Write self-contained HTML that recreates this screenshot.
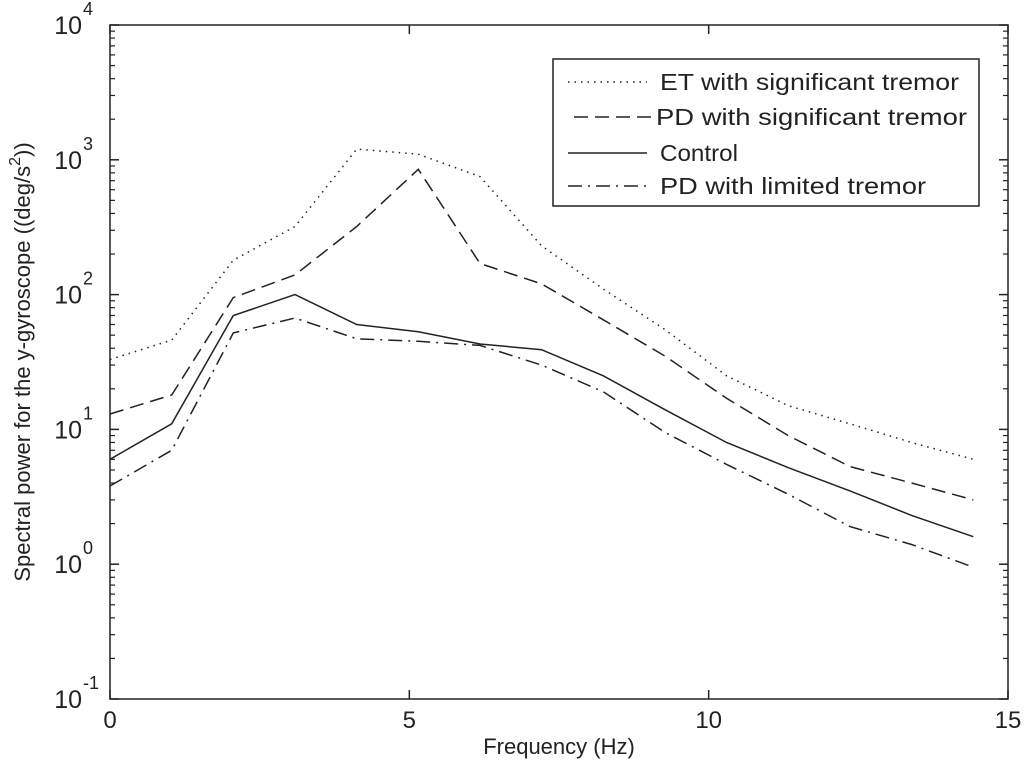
<!DOCTYPE html>
<html><head><meta charset="utf-8"><style>
body{margin:0;background:#fff;}
svg text{font-family:"Liberation Sans",Arial,sans-serif;fill:#222;}
</style></head><body>
<svg id="chart" width="1024" height="769" xmlns="http://www.w3.org/2000/svg">
<rect x="0" y="0" width="1024" height="769" fill="#fff"/>
<g id="ticks"></g>
<g id="series"></g>
<rect x="110" y="25" width="898" height="674" fill="none" stroke="#222" stroke-width="1.5"/>
<text x="559" y="754" font-size="22" text-anchor="middle">Frequency (Hz)</text>
<text transform="translate(30,362) rotate(-90)" font-size="22" text-anchor="middle">Spectral power for the y-gyroscope ((deg/s<tspan dy="-10" font-size="16">2</tspan><tspan dy="10">))</tspan></text>
<g>
<rect x="553" y="59" width="426" height="147" fill="#fff" stroke="#222" stroke-width="1.5"/>
<line x1="568" y1="82" x2="647" y2="82" stroke="#222" stroke-width="1.5" stroke-dasharray="1.5,5"/>
<text x="660" y="90" font-size="23" textLength="299" lengthAdjust="spacingAndGlyphs">ET with significant tremor</text>
<line x1="574" y1="117" x2="651" y2="117" stroke="#222" stroke-width="1.5" stroke-dasharray="14,7"/>
<text x="656" y="125" font-size="23" textLength="311" lengthAdjust="spacingAndGlyphs">PD with significant tremor</text>
<line x1="568" y1="153" x2="647" y2="153" stroke="#222" stroke-width="1.5"/>
<text x="660" y="161" font-size="23" textLength="78" lengthAdjust="spacingAndGlyphs">Control</text>
<line x1="568" y1="186" x2="647" y2="186" stroke="#222" stroke-width="1.5" stroke-dasharray="14,6,2,6"/>
<text x="660" y="194" font-size="23" textLength="266" lengthAdjust="spacingAndGlyphs">PD with limited tremor</text>
</g>
</svg>
<script>
const freqs = [0, 1.03, 2.06, 3.09, 4.12, 5.15, 6.18, 7.21, 8.24, 9.27, 10.3, 11.33, 12.36, 13.39, 14.42];
const etSig = [33, 46, 180, 320, 1200, 1100, 750, 230, 110, 55, 25, 15, 11, 8, 6];
const pdSig = [13, 18, 95, 140, 320, 850, 170, 120, 65, 35, 17, 9, 5.3, 4, 3];
const control = [6, 11, 70, 100, 60, 53, 43, 39, 25, 14, 8, 5.2, 3.5, 2.3, 1.6];
const pdLim = [3.8, 7, 52, 67, 47, 45, 42, 30, 19, 9.5, 5.5, 3.3, 1.9, 1.4, 0.95];
const xTicks = [0, 5, 10, 15];
const yExps = [-1, 0, 1, 2, 3, 4];

const NS = "http://www.w3.org/2000/svg";
const L = 110, R = 1008, T = 25, B = 699;
function xs(v){ return L + v / 15 * (R - L); }
function ys(v){ return B - (Math.log10(v) + 1) / 5 * (B - T); }
function mk(tag, attrs, parent){ const e = document.createElementNS(NS, tag); for (const k in attrs) e.setAttribute(k, attrs[k]); parent.appendChild(e); return e; }

const tg = document.getElementById('ticks');
xTicks.forEach(t => {
  const x = xs(t);
  const l1 = mk('line', {x1:x, y1:B, x2:x, y2:B-9, stroke:'#222', 'stroke-width':1.5}, tg);
  
  
  const l2 = mk('line', {x1:x, y1:T, x2:x, y2:T+9, stroke:'#222', 'stroke-width':1.5}, tg);
  
  
  const tx = mk('text', {x:x, y:B+29, 'font-size':24, 'text-anchor':'middle'}, tg);
  tx.textContent = t;
  
  
});
yExps.forEach(e => {
  const y = ys(Math.pow(10, e));
  [[L, L+9], [R, R-9]].forEach(p => {
    const l = mk('line', {x1:p[0], y1:y, x2:p[1], y2:y, stroke:'#222', 'stroke-width':1.5}, tg);
    
    
  });
  if (e < 4) for (let m = 2; m <= 9; m++) {
    const ym = ys(m * Math.pow(10, e));
    [[L, L+5], [R, R-5]].forEach(p => {
      const l = mk('line', {x1:p[0], y1:ym, x2:p[1], y2:ym, stroke:'#222', 'stroke-width':1.2}, tg);
      
      
    });
  }
  const tx = mk('text', {x:L-28, y:y+9, 'font-size':25, 'text-anchor':'end'}, tg);
  tx.textContent = '10';
  
  
  const sup = mk('text', {x:L-27, y:y-10, 'font-size':18, 'text-anchor':'start'}, tg);
  sup.textContent = e;
  
  
});

const sg = document.getElementById('series');
const defs = [
  ['series-et-significant', etSig, '1.5,5'],
  ['series-pd-significant', pdSig, '14,7'],
  ['series-control', control, ''],
  ['series-pd-limited', pdLim, '14,6,2,6']
];
defs.forEach(d => {
  const pts = d[1].map((v, i) => xs(freqs[i]).toFixed(1) + ',' + ys(v).toFixed(1)).join(' ');
  const pl = mk('polyline', {points:pts, fill:'none', stroke:'#222', 'stroke-width':1.5}, sg);
  if (d[2]) pl.setAttribute('stroke-dasharray', d[2]);
  
  
});
</script>
</body></html>
